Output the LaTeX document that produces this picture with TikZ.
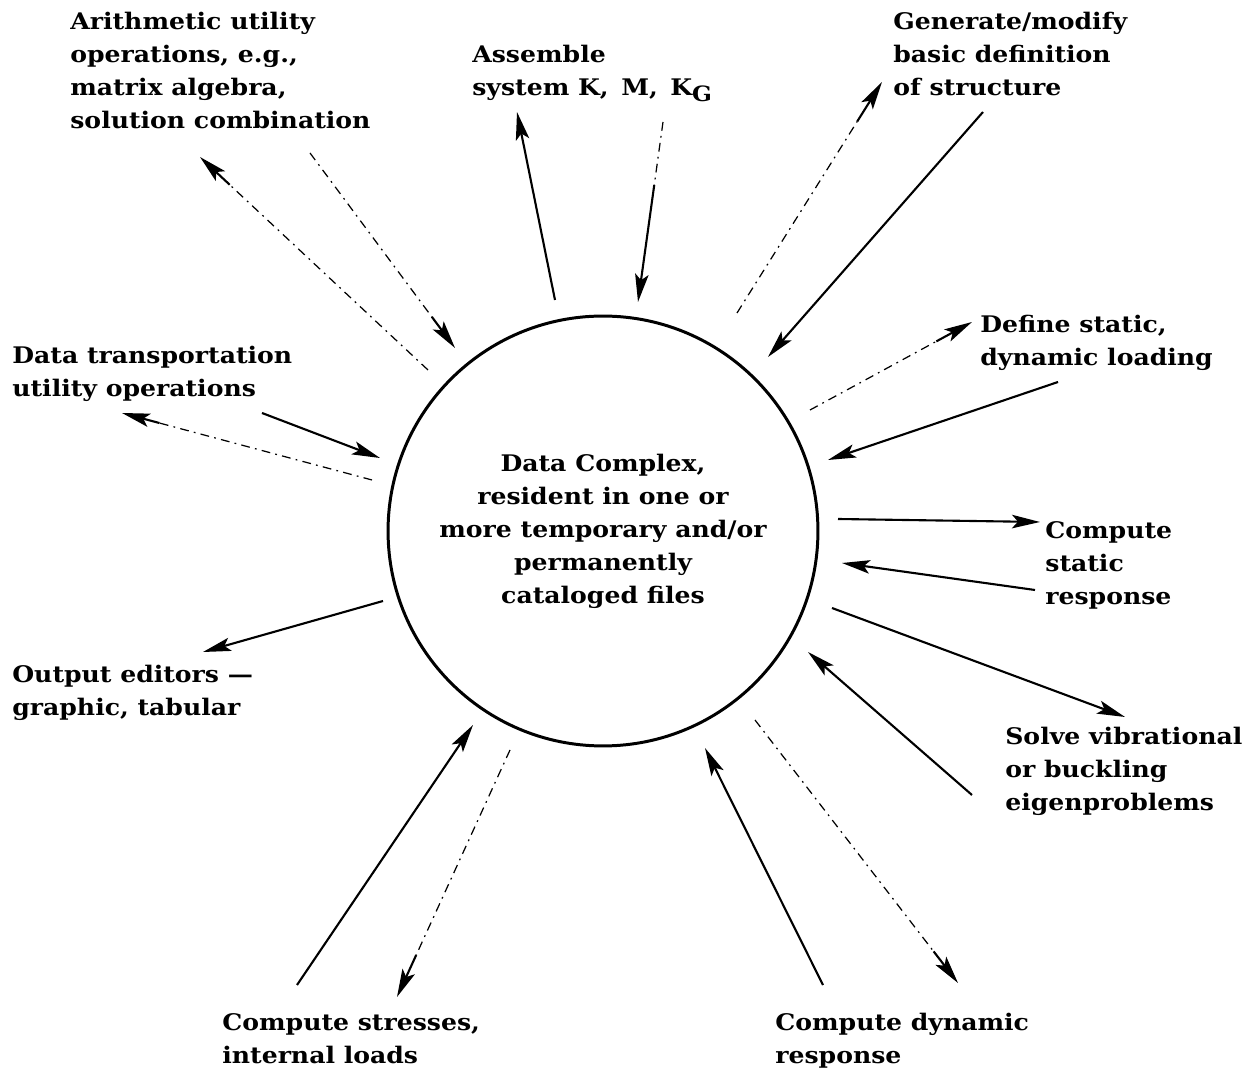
\documentclass[tikz,border=0pt]{standalone}
\usepackage{fontspec}
\setmainfont{DejaVu Serif}[FakeStretch=1.1]
\usetikzlibrary{arrows.meta,calc}
\newcommand\fadearrow[3]{%
  \draw[faint] (#1) -- ($(#1)!#3!(#2)$);
  \draw[arr] ($(#1)!#3!(#2)$) -- (#2);}
\begin{document}
\begin{tikzpicture}[x=0.02cm,y=-0.02cm,
  lbl/.style={font=\bfseries\fontsize{13}{18.8}\selectfont, align=left, anchor=north west, inner sep=0pt},
  arr/.style={line width=1.2pt, -{Stealth[length=0.56cm,width=0.27cm,inset=0.12cm]}},
  faint/.style={line width=0.7pt, dash pattern=on 5pt off 3pt on 1pt off 3pt}]
\useasboundingbox (0,0) rectangle (1252,1070);
\fill[white] (0,0) rectangle (1252,1070);

% central circle
\node[draw, circle, line width=1.7pt, minimum size=8.6cm, inner sep=0pt,
      font=\bfseries\fontsize{13}{18.8}\selectfont, align=center] (dc) at (603,531)
  {Data Complex,\\resident in one or\\more temporary and/or\\permanently\\cataloged files};

% labels
\node[lbl] (arith) at (70,12) {Arithmetic utility\\operations, e.g.,\\matrix algebra,\\solution combination};
\node[lbl] (assem) at (472,45) {Assemble\\system K,\, M,\, K\raisebox{-0.45ex}{\fontsize{12}{12}\selectfont G}};
\node[lbl] (gener) at (893,12) {Generate/modify\\basic definition\\of structure};
\node[lbl] (defin) at (980,315) {Define static,\\dynamic loading};
\node[lbl] (trans) at (12,346) {Data transportation\\utility operations};
\node[lbl] (stat)  at (1045,521) {Compute\\static\\response};
\node[lbl] (outp)  at (12,665) {Output editors ---\\graphic, tabular};
\node[lbl] (vib)   at (1005,727) {Solve vibrational\\or buckling\\eigenproblems};
\node[lbl] (stres) at (222,1013) {Compute stresses,\\internal loads};
\node[lbl] (dyn)   at (775,1013) {Compute dynamic\\response};

% connector end points
\coordinate (ao1) at (428,370); \coordinate (ao2) at (200,157);
\coordinate (ai1) at (310,153); \coordinate (ai2) at (455,348);
\coordinate (so1) at (555,300); \coordinate (so2) at (517,112);
\coordinate (si1) at (663,122); \coordinate (si2) at (638,302);
\coordinate (go1) at (737,313); \coordinate (go2) at (882,82);
\coordinate (gi1) at (983,112); \coordinate (gi2) at (768,357);
\coordinate (do1) at (810,410); \coordinate (do2) at (972,322);
\coordinate (di1) at (1058,382); \coordinate (di2) at (828,460);
\coordinate (to1) at (372,480); \coordinate (to2) at (122,413);
\coordinate (ti1) at (262,413); \coordinate (ti2) at (380,458);
\coordinate (oo1) at (383,601); \coordinate (oo2) at (203,652);
\coordinate (co1) at (838,519); \coordinate (co2) at (1040,522);
\coordinate (ci1) at (1035,590); \coordinate (ci2) at (842,563);
\coordinate (vo1) at (832,608); \coordinate (vo2) at (1125,717);
\coordinate (vi1) at (972,795); \coordinate (vi2) at (808,652);
\coordinate (yi1) at (823,985); \coordinate (yi2) at (705,748);
\coordinate (yo1) at (755,720); \coordinate (yo2) at (958,983);
\coordinate (ri1) at (297,985); \coordinate (ri2) at (473,725);
\coordinate (ro1) at (510,750); \coordinate (ro2) at (397,997);

% connectors
\fadearrow{ao1}{ao2}{0.87}
\fadearrow{ai1}{ai2}{0.84}
\draw[arr] (so1) -- (so2);
\fadearrow{si1}{si2}{0.35}
\fadearrow{go1}{go2}{0.83}
\draw[arr] (gi1) -- (gi2);
\fadearrow{do1}{do2}{0.78}
\draw[arr] (di1) -- (di2);
\fadearrow{to1}{to2}{0.85}
\draw[arr] (ti1) -- (ti2);
\draw[arr] (oo1) -- (oo2);
\draw[arr] (co1) -- (co2);
\draw[arr] (ci1) -- (ci2);
\draw[arr] (vo1) -- (vo2);
\draw[arr] (vi1) -- (vi2);
\draw[arr] (yi1) -- (yi2);
\fadearrow{yo1}{yo2}{0.88}
\draw[arr] (ri1) -- (ri2);
\fadearrow{ro1}{ro2}{0.83}
\end{tikzpicture}
\end{document}
